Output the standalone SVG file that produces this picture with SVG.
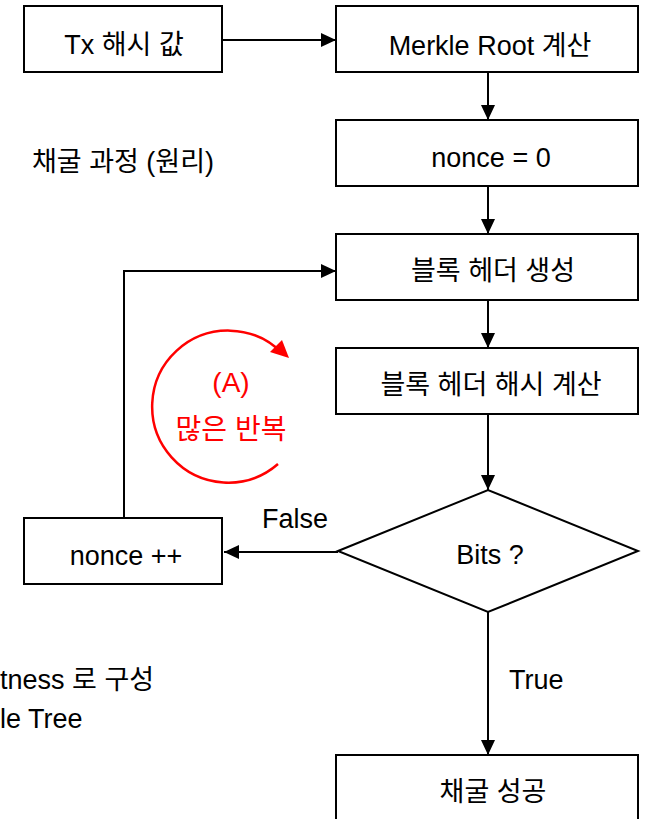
<svg xmlns="http://www.w3.org/2000/svg" width="654" height="819" viewBox="0 0 654 819">
<defs>
<marker id="arr" markerUnits="userSpaceOnUse" markerWidth="16" markerHeight="16" refX="15" refY="7" orient="auto">
<path d="M0,0 L15,7 L0,14 Z" fill="#000"/>
</marker>
<style>
.box{fill:#fff;stroke:#000;stroke-width:2}
.t{font-family:"Liberation Sans","Noto Sans CJK KR",sans-serif;font-size:27px;fill:#000}
.c{text-anchor:middle}
.ln{fill:none;stroke:#000;stroke-width:2}
.red{font-family:"Liberation Sans","Noto Sans CJK KR",sans-serif;font-size:28px;fill:#ff0000;text-anchor:middle}
</style>
</defs>
<rect width="654" height="819" fill="#fff"/>
<g id="connectors">
<line class="ln" x1="222" y1="40" x2="336" y2="40" marker-end="url(#arr)"/>
<line class="ln" x1="488" y1="72" x2="488" y2="120" marker-end="url(#arr)"/>
<line class="ln" x1="488" y1="186" x2="488" y2="234" marker-end="url(#arr)"/>
<line class="ln" x1="488" y1="300" x2="488" y2="348" marker-end="url(#arr)"/>
<line class="ln" x1="488" y1="414" x2="488" y2="490" marker-end="url(#arr)"/>
<line class="ln" x1="488" y1="612" x2="488" y2="755" marker-end="url(#arr)"/>
<line class="ln" x1="338" y1="552" x2="224" y2="552" marker-end="url(#arr)"/>
<polyline class="ln" points="124,518 124,271 336,271" marker-end="url(#arr)"/>
<text class="t" x="262" y="528" font-size="26">False</text>
<text class="t" x="509" y="689" font-size="26">True</text>
</g>
<g id="tx"><rect class="box" x="24" y="6" width="198" height="66"/><text class="t c" x="124" y="54">Tx 해시 값</text></g>
<g id="merkle"><rect class="box" x="336" y="6" width="302" height="66"/><text class="t c" x="490" y="55">Merkle Root 계산</text></g>
<g id="nonce0"><rect class="box" x="336" y="120" width="302" height="66"/><text class="t c" x="491" y="167">nonce = 0</text></g>
<g id="header"><rect class="box" x="336" y="234" width="302" height="66"/><text class="t c" x="493" y="280">블록 헤더 생성</text></g>
<g id="hash"><rect class="box" x="336" y="348" width="302" height="66"/><text class="t c" x="491" y="394">블록 헤더 해시 계산</text></g>
<g id="bits"><polygon class="box" points="338,551 488,490 638,551 488,612"/><text class="t c" x="490" y="564">Bits ?</text></g>
<g id="noncepp"><rect class="box" x="24" y="518" width="198" height="66"/><text class="t c" x="126" y="565">nonce ++</text></g>
<g id="success"><rect class="box" x="336" y="755" width="302" height="80"/><text class="t c" x="493" y="801">채굴 성공</text></g>
<g id="title"><text class="t" x="32" y="171">채굴 과정 (원리)</text></g>
<g id="notes"><text class="t" x="0" y="689">tness 로 구성</text><text class="t" x="0" y="728">le Tree</text></g>
<g id="loop-note">
<path d="M278,464 A76,76 0 1 1 283,354" fill="none" stroke="#ff0000" stroke-width="2.5"/>
<polygon points="270,352 289,358 282,340" fill="#ff0000"/>
<text class="red" x="231" y="392">(A)</text>
<text class="red" x="231" y="439">많은 반복</text>
</g>
</svg>
